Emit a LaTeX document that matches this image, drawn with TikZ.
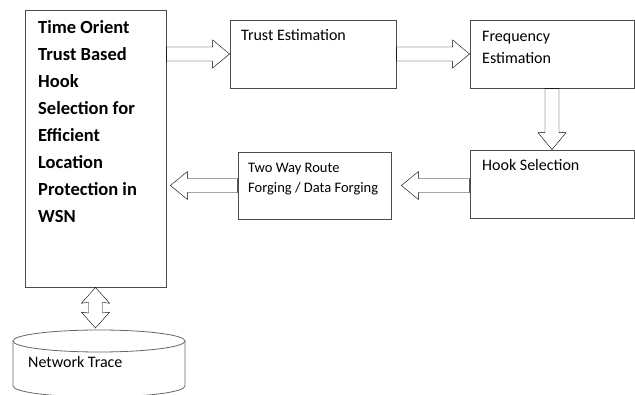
\documentclass[tikz,border=0pt]{standalone}
\usepackage{fontspec}
\setmainfont{Carlito}
\usetikzlibrary{calc}

\tikzset{
    box/.style = {draw = black!70, line width = 0.8pt, inner sep = 0pt},
    txt/.style = {inner sep = 0pt, anchor = base west, align = left},
    cyl/.style = {draw = black!60, line width = 0.8pt},
    blockarrow/.style = {draw = black!50, line width = 0.8pt, to path = {
        ($(\tikztostart)!7pt!90:(\tikztotarget)$)
        -- ($(\tikztotarget)!18.38pt!-22.38:(\tikztostart)$)
        -- ($(\tikztotarget)!22.02pt!-39.47:(\tikztostart)$)
        -- (\tikztotarget)
        -- ($(\tikztotarget)!22.02pt!39.47:(\tikztostart)$)
        -- ($(\tikztotarget)!18.38pt!22.38:(\tikztostart)$)
        -- ($(\tikztostart)!7pt!-90:(\tikztotarget)$) -- cycle}},
    dblarrow/.style = {draw = black!50, line width = 0.8pt, to path = {
        (\tikztostart)
        -- ($(\tikztostart)!21.21pt!41.63:(\tikztotarget)$)
        -- ($(\tikztostart)!16.55pt!25.02:(\tikztotarget)$)
        -- ($(\tikztotarget)!16.55pt!-25.02:(\tikztostart)$)
        -- ($(\tikztotarget)!21.21pt!-41.63:(\tikztostart)$)
        -- (\tikztotarget)
        -- ($(\tikztotarget)!21.21pt!41.63:(\tikztostart)$)
        -- ($(\tikztotarget)!16.55pt!25.02:(\tikztostart)$)
        -- ($(\tikztostart)!16.55pt!-25.02:(\tikztotarget)$)
        -- ($(\tikztostart)!21.21pt!-41.63:(\tikztotarget)$) -- cycle}}
}

\begin{document}
\begin{tikzpicture}[x = 1pt, y = -1pt]
            \useasboundingbox (0, 0) rectangle (635, 395);

            % boxes
            \node[box, minimum width = 141pt, minimum height = 277pt] (M) at (95.5, 148.5){};
            \node[box, minimum width = 166pt, minimum height = 68pt] (T) at (313, 54){};
            \node[box, minimum width = 164pt, minimum height = 68pt] (F) at (552, 54){};
            \node[box, minimum width = 164pt, minimum height = 68pt] (H) at (552, 184){};
            \node[box, minimum width = 153pt, minimum height = 67pt] (R) at (314.5, 185.5){};

            % texts (anchored at the last line)
            \node[txt, font = \fontsize{18.5}{27}\selectfont\bfseries] (Mt) at (38, 223){Time Orient\\Trust Based\\Hook\\Selection for\\Efficient\\Location\\Protection in\\WSN};
            \node[txt, font = \fontsize{16}{22}\selectfont] (Tt) at (241, 41){Trust Estimation};
            \node[txt, font = \fontsize{16}{22.5}\selectfont] (Ft) at (482, 64){Frequency\\Estimation};
            \node[txt, font = \fontsize{16}{22}\selectfont] (Ht) at (482, 171){Hook Selection};
            \node[txt, font = \fontsize{14.5}{20}\selectfont] (Rt) at (248, 193){Two Way Route\\Forging / Data Forging};
            \node[txt, font = \fontsize{16}{22}\selectfont] (Nt) at (28, 368){Network Trace};

            % database
            \draw[cyl] (13, 341) -- (13, 386) arc[start angle = 180, end angle = 0, x radius = 86, y radius = 11] -- (185, 341);
            \draw[cyl] (99, 341) ellipse [x radius = 86, y radius = 11];
            \coordinate (N) at (95.5, 328);
            \coordinate (Mr) at ($(M.east |- R.west) + (4, 0)$);
            \coordinate (Rr) at ($(R.east) + (10, 0)$);

            % arrows
            \draw (M.east |- T.west) to[blockarrow] (T.west);
            \draw (T.east) to[blockarrow] (F.west);
            \draw (F.south) to[blockarrow] (H.north);
            \draw (H.west |- Rr) to[blockarrow] (Rr);
            \draw (R.west) to[blockarrow] (Mr);
            \draw (M.south) to[dblarrow] (N);
        \end{tikzpicture}
\end{document}
